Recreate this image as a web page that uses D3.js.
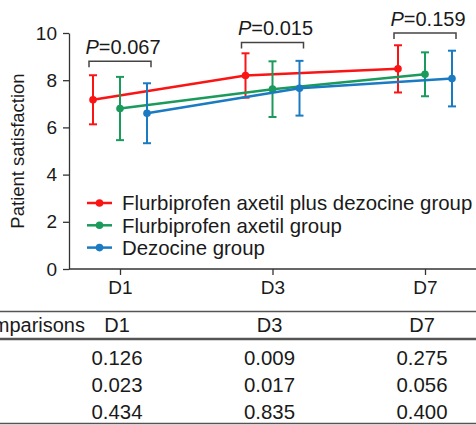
<!DOCTYPE html>
<html>
<head>
<meta charset="utf-8">
<script src="https://cdn.jsdelivr.net/npm/d3@7"></script>
<style>
  body { margin: 0; background: #fff; }
  text { font-family: "Liberation Sans", Arial, Helvetica, sans-serif; fill: #1a1a1a; }
</style>
</head>
<body>
<svg id="chart"></svg>
<script>
// data
const days = ["D1", "D3", "D7"];
const groups = ["Flurbiprofen axetil plus dezocine group", "Flurbiprofen axetil group", "Dezocine group"];
const colors = ["#fa1414", "#1a9b5c", "#1a7ac2"];
const means = [
  [7.17, 8.2, 8.48],
  [6.8, 7.62, 8.25],
  [6.6, 7.66, 8.07]
];
const sds = [
  [1.04, 0.94, 1.0],
  [1.34, 1.18, 0.93],
  [1.27, 1.16, 1.18]
];
const pLabels = ["0.067", "0.015", "0.159"];
const bracketLevels = [8.8, 9.6, 10.0];
const tableHead = "Comparisons";
const tableRows = [
  ["0.126", "0.009", "0.275"],
  ["0.023", "0.017", "0.056"],
  ["0.434", "0.835", "0.400"]
];

const W = 476, H = 425;
const svg = d3.select("#chart").attr("width", W).attr("height", H);

// scales
const x = d3.scalePoint().domain(days).range([120, 425]);
const y = d3.scaleLinear().domain([0, 10]).range([269, 33]);
const off = d3.scalePoint().domain(d3.range(groups.length)).range([-27, 27]);
const axisLeftX = 69;

// y axis
const yAxis = svg.append("g")
  .attr("transform", `translate(${axisLeftX},0)`)
  .call(d3.axisLeft(y).tickValues([0, 2, 4, 6, 8, 10]).tickSize(6).tickSizeOuter(0).tickPadding(6));
yAxis.selectAll("text").style("font-size", "19px").attr("fill", "#1a1a1a");
yAxis.selectAll("line, path").attr("stroke", "#333").attr("stroke-width", 1.3);

// x axis
const xAxis = svg.append("g")
  .attr("transform", `translate(0,${y(0)})`)
  .call(d3.axisBottom(x).tickSize(6).tickSizeOuter(0).tickPadding(6));
xAxis.select(".domain").attr("d", `M${axisLeftX},0H${W}`);
xAxis.selectAll("text").style("font-size", "19px").attr("fill", "#1a1a1a");
xAxis.selectAll("line, path").attr("stroke", "#333").attr("stroke-width", 1.3);

// y label
svg.append("text")
  .attr("transform", `translate(24,${(y(0) + y(10)) / 2}) rotate(-90)`)
  .attr("text-anchor", "middle")
  .style("font-size", "18.5px")
  .text("Patient satisfaction");

// series
groups.forEach((g, gi) => {
  const pts = days.map((d, di) => ({ d, m: means[gi][di], s: sds[gi][di] }));
  const px = p => x(p.d) + off(gi);
  const grp = svg.append("g");

  grp.append("path")
    .datum(pts)
    .attr("fill", "none")
    .attr("stroke", colors[gi])
    .attr("stroke-width", 2.5)
    .attr("d", d3.line().x(px).y(p => y(p.m)));

  const eb = grp.selectAll(".eb").data(pts).enter().append("g");
  eb.append("line")
    .attr("x1", px).attr("x2", px)
    .attr("y1", p => y(p.m - p.s)).attr("y2", p => y(p.m + p.s))
    .attr("stroke", colors[gi]).attr("stroke-width", 2);
  [1, -1].forEach(sgn => {
    eb.append("line")
      .attr("x1", p => px(p) - 4).attr("x2", p => px(p) + 4)
      .attr("y1", p => y(p.m + sgn * p.s)).attr("y2", p => y(p.m + sgn * p.s))
      .attr("stroke", colors[gi]).attr("stroke-width", 2);
  });
  eb.append("circle")
    .attr("cx", px).attr("cy", p => y(p.m)).attr("r", 3.8)
    .attr("fill", colors[gi]);
});

// P brackets
days.forEach((d, di) => {
  const x0 = x(d) + off(0) - 4, x1 = x(d) + off(groups.length - 1) + 4;
  const by = y(bracketLevels[di]);
  svg.append("path")
    .attr("d", `M${x0},${by + 6}V${by}H${x1}V${by + 6}`)
    .attr("fill", "none").attr("stroke", "#444").attr("stroke-width", 1.5);
  const t = svg.append("text")
    .attr("x", (x0 + x1) / 2 + 3).attr("y", by - 7)
    .attr("text-anchor", "middle")
    .style("font-size", "20px");
  t.append("tspan").style("font-style", "italic").text("P");
  t.append("tspan").text("=" + pLabels[di]);
});

// legend
const leg = svg.append("g").attr("transform", "translate(87,203)");
groups.forEach((g, gi) => {
  const row = leg.append("g").attr("transform", `translate(0,${gi * 22.3})`);
  row.append("line").attr("x1", 0).attr("x2", 25)
    .attr("stroke", colors[gi]).attr("stroke-width", 2.5);
  row.append("circle").attr("cx", 12.5).attr("r", 3.8).attr("fill", colors[gi]);
  row.append("text").attr("x", 35).attr("dy", "0.36em")
    .style("font-size", "20.4px").text(g);
});

// table below axis (left column label is cropped in the original)
const tab = svg.append("g");
const colX = d => x(d) - 3;
tab.append("line").attr("x1", 0).attr("x2", W).attr("y1", 311.5).attr("y2", 311.5)
  .attr("stroke", "#555").attr("stroke-width", 1.5);
tab.append("line").attr("x1", 0).attr("x2", W).attr("y1", 339).attr("y2", 339)
  .attr("stroke", "#555").attr("stroke-width", 2.5);
tab.append("line").attr("x1", 0).attr("x2", W).attr("y1", 423.5).attr("y2", 423.5)
  .attr("stroke", "#555").attr("stroke-width", 1.5);

tab.append("text").attr("x", 85).attr("y", 332)
  .attr("text-anchor", "end").style("font-size", "20px").text(tableHead);
tab.selectAll(".hd").data(days).enter().append("text")
  .attr("x", colX).attr("y", 332)
  .attr("text-anchor", "middle").style("font-size", "20px").text(d => d);

tableRows.forEach((r, ri) => {
  tab.selectAll(null).data(r).enter().append("text")
    .attr("x", (v, i) => colX(days[i])).attr("y", 365 + ri * 27)
    .attr("text-anchor", "middle").style("font-size", "20.4px").text(v => v);
});
</script>
</body>
</html>
